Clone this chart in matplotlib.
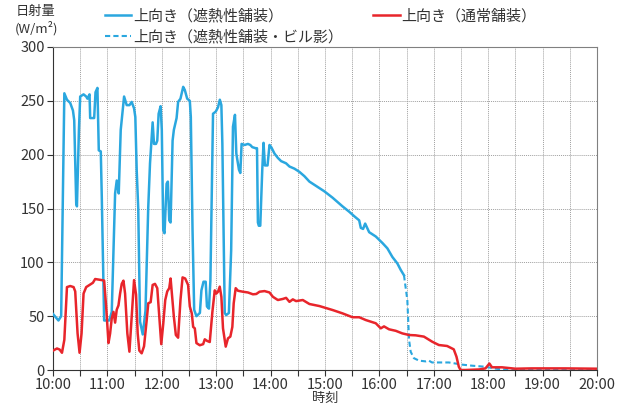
import matplotlib
matplotlib.use("Agg")
import matplotlib.pyplot as plt
from matplotlib.ticker import MultipleLocator, FixedLocator

plt.rcParams["font.family"] = ["Noto Sans CJK JP", "DejaVu Sans"]

# minutes after 10:00 / W/m2
blue_t = [0, 4, 6, 9, 12.5, 15.4, 19, 22, 23.4, 25.6, 26.4, 28.6, 30, 33.7, 36.6, 38, 40.3, 41,
          45.4, 46.9, 49, 50.5, 52.7, 53.8, 56.4, 59, 62, 64.8, 68.5, 70.3, 72.5, 74.7, 78.4,
          81.3, 84.3, 86.8, 89.4, 90.8, 92.3, 94, 96, 99, 102, 105, 107, 109.9, 111.4, 113.6,
          115, 116.5, 118.7, 120, 121.6, 123, 125.3, 126.7, 128.2, 129.7, 131.9, 133.3, 136.3,
          138, 140.6, 143.6, 145.4, 148, 150.9, 152, 153.9, 155.7, 158.2, 162, 163.7, 166,
          168.4, 169.8, 172, 173.6, 176.5, 179.5, 182, 184, 185.7, 186.8, 189.4, 191, 194,
          196.5, 198.5, 200.7, 202.2, 205.1, 206.6, 208, 211.4, 215, 217.6, 219.8, 223.5, 225,
          226, 227, 228.6, 230.8, 232.2, 233.7, 236.6, 238.8, 240.7, 244.3, 248, 251.6, 257,
          260.8, 266.3, 271.8, 277.3, 282.8, 288.3, 293.8, 299.2, 308.4, 319.3, 326.7, 332,
          337.7, 339.5, 342, 344.3, 348.7, 356, 363.3, 368.8, 374.3, 379.8, 383.5, 387.1]
blue_v = [52, 48, 46, 50, 257, 251, 248, 241, 232, 155, 152, 223, 254, 256, 254, 252, 256, 234,
          234, 258, 262, 204, 203, 161, 46, 46, 46, 54, 164, 176, 164, 223, 254,
          246, 246, 249, 243, 235, 186, 150, 45, 33, 55, 150, 192, 230, 210, 210,
          213, 238, 245, 223, 130, 127, 173, 175, 139, 137, 213, 223, 234,
          249, 252, 263, 260, 252, 250, 235, 130, 56, 50, 53, 74, 82,
          82, 59, 57, 83, 238, 240, 244, 251, 246, 210, 53, 51, 53,
          111, 226, 237, 201, 186, 183, 210, 209, 210, 209, 207, 206, 206,
          137, 134, 134, 186, 211, 190, 190, 209, 207, 201, 197, 194, 192,
          189, 187, 184, 180, 175, 172, 169, 166, 160, 152, 147, 143,
          139, 132, 131, 136, 128, 124, 118, 113, 105, 99, 93, 88]

shade_t = [387.1, 390.8, 392.7, 394.5, 398, 403.7, 411, 414.6, 418, 425.6, 436.6, 444, 451,
           462.2, 476.9, 486, 495, 520, 560, 600]
shade_v = [88, 65, 28, 17, 11, 8.7, 8, 8.7, 7, 7, 7, 6, 5, 4, 3, 1.5, 0.5, 0.3, 0.2, 0.2]

red_t = [0, 4.4, 7.3, 9.9, 12.5, 15.4, 19, 22.7, 24.5, 27.1, 29.3, 31.5, 33.7, 36.6, 40.3, 44,
         46.5, 50.2, 53.8, 56.4, 58.6, 61.2, 63, 64.8, 66.7, 68.5, 70.3, 72.2, 74, 75.8, 77.7,
         79.5, 82, 84.3, 86.8, 89.4, 91.6, 93.4, 95.2, 97.8, 100.4, 103.3, 105.1, 107.7, 109.9,
         112.5, 115, 117.2, 119.4, 121.6, 123.8, 126, 128.2, 129.7, 131.1, 133.3, 135.5, 138,
         140.6, 142.9, 145.8, 149, 150.9, 153.1, 154.6, 156.4, 158.2, 161.9, 165.6, 167.4, 170,
         172.9, 175.8, 178.4, 180.2, 182, 183.9, 185.7, 187.5, 190.5, 193, 195.6, 197.8, 199.3,
         201.5, 204, 209.5, 215, 220.5, 224.2, 227.8, 233.3, 238.8, 242.5, 248, 253.5, 257.1,
         260.8, 264.5, 268.1, 275.5, 282.8, 293.8, 299.2, 308.4, 319.3, 330.3, 337.7, 345, 356,
         361.5, 365.1, 370.6, 378, 385.3, 392.7, 400, 409.1, 418.2, 425.6, 434.7, 442, 445,
         447.6, 449.5, 455, 470, 477, 481.3, 484.2, 495.2, 510, 528, 565, 600]
red_v = [18, 20, 19, 16, 28, 77, 78, 77, 73, 34, 16, 34, 71, 77, 79, 81,
         84.5, 84, 83.5, 83, 59, 25, 34, 48, 54, 44, 56, 60, 71, 80, 83,
         71, 34, 17, 49, 83.5, 70, 34, 18, 15.5, 22, 46, 62, 63, 79,
         80, 76, 49.5, 24, 43, 65, 73, 76, 85, 71, 49.5, 32.5, 30,
         65, 86, 85, 79, 59, 52.5, 40, 38.7, 25, 23, 24, 28.5, 27,
         26, 54, 74, 71, 72.7, 77.4, 68, 38.7, 21.7, 29.4, 31, 40, 62,
         76, 73.6, 72.7, 72, 70.3, 70.6, 72.7, 73.3, 72, 68, 65, 66, 67,
         63.3, 65.6, 64, 65, 61.3, 59.4, 58, 55.7, 52.6, 49, 49, 46.4, 43.4,
         38.7, 40.5, 37.8, 36.4, 34, 32.5, 32.2, 31, 26.3, 23.2, 22.3, 19.2, 12.4,
         3, 0, 0, 0.5, 1.5, 6, 2.5, 2.5, 1.2, 1.5, 1.5, 1.2]

hour_labels = ["10:00", "11:00", "12:00", "13:00", "14:00", "15:00",
               "16:00", "17:00", "18:00", "19:00", "20:00"]

BLUE = "#2aa7df"
RED = "#e8252b"
TXT = "#333333"

fig = plt.figure(figsize=(6.26, 4.08), dpi=100)
ax = fig.add_axes([53 / 626, 1 - 370 / 408, 544 / 626, 323 / 408])

l1, = ax.plot(blue_t, blue_v, color=BLUE, lw=1.8, solid_joinstyle="round", zorder=3)
l2, = ax.plot(shade_t, shade_v, color=BLUE, lw=1.5, ls=(0, (2.5, 1.5)), zorder=3)
l3, = ax.plot(red_t, red_v, color=RED, lw=1.8, solid_joinstyle="round", zorder=4)

ax.set_xlim(0, 600)
ax.set_ylim(0, 300)
ax.xaxis.set_major_locator(FixedLocator(range(0, 601, 60)))
ax.set_xticklabels(hour_labels)
ax.xaxis.set_minor_locator(MultipleLocator(30))
ax.yaxis.set_major_locator(MultipleLocator(50))
ax.grid(True, which="both", axis="x", color="#a0a0a0", lw=0.7, ls=(0, (1, 1)))
ax.grid(True, which="major", axis="y", color="#a0a0a0", lw=0.7, ls=(0, (1, 1)))
ax.tick_params(axis="both", which="both", direction="out", length=4, width=0.8,
               color=TXT, labelsize=10.5, labelcolor=TXT, pad=2)
for s in ("left", "bottom"):
    ax.spines[s].set_color(TXT)
for s in ("top", "right"):
    ax.spines[s].set_color("#808080")

ax.set_xlabel("時刻", fontsize=9.5, color=TXT, labelpad=0)
fig.text(36 / 626, 1 - 5 / 408, "日射量\n(W/m²)", ha="center", va="top",
         fontsize=9.5, color=TXT, linespacing=1.3)

fig.legend([l1, l2, l3],
           ["上向き（遮熱性舗装）", "上向き（遮熱性舗装・ビル影）", "上向き（通常舗装）"],
           ncol=2, loc="upper left", bbox_to_anchor=(105 / 626, 1 - 9 / 408),
           frameon=False, fontsize=10.8, handlelength=1.75, handletextpad=0.1,
           columnspacing=2.05, labelspacing=0.37, borderpad=0, borderaxespad=0,
           labelcolor=TXT)

fig.savefig("out.png", dpi=100)
